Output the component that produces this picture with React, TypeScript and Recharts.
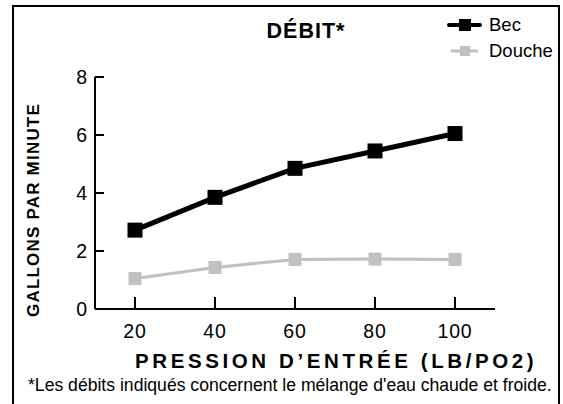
import { Legend, Line, LineChart, XAxis, YAxis } from "recharts";

const pressures = [20, 40, 60, 80, 100];
const becValues = [2.72, 3.85, 4.85, 5.45, 6.05];
const doucheValues = [1.05, 1.43, 1.71, 1.72, 1.71];
const yTicks = [0, 2, 4, 6, 8];

const title = "DÉBIT*";
const xTitle = "PRESSION D’ENTRÉE (LB/PO2)";
const yTitle = "GALLONS PAR MINUTE";
const footnote = "*Les débits indiqués concernent le mélange d'eau chaude et froide.";

const FONT = "'Liberation Sans', Arial, Helvetica, sans-serif";
const BEC = "#000000";
const DOUCHE = "#c0c0c0";

const data = pressures.map((p, i) => ({
  pression: p,
  bec: becValues[i],
  douche: doucheValues[i],
}));

function squareDot(size: number, color: string, prefix: string) {
  return (p: any) => (
    <rect
      key={`${prefix}-${p.index}`}
      x={p.cx - size / 2}
      y={p.cy - size / 2}
      width={size}
      height={size}
      fill={color}
    />
  );
}

function LegendBox({ payload }: any) {
  return (
    <div style={{ fontFamily: FONT, fontSize: 18.5, color: "#000", lineHeight: 1 }}>
      {(payload || []).map((item: any, i: number) => {
        const thick = item.dataKey === "bec";
        return (
          <div key={i} style={{ display: "flex", alignItems: "center", height: 26 }}>
            <svg width={40} height={20} style={{ marginRight: 2 }}>
              <line
                x1={thick ? 2 : 5}
                x2={thick ? 33 : 30}
                y1={10}
                y2={10}
                stroke={item.color}
                strokeWidth={thick ? 4 : 3}
                strokeLinecap="round"
              />
              {thick ? (
                <rect x={12} y={4} width={12} height={12} fill={item.color} />
              ) : (
                <rect x={13} y={5} width={10} height={10} fill={item.color} />
              )}
            </svg>
            <span>{item.value}</span>
          </div>
        );
      })}
    </div>
  );
}

export default function App() {
  return (
    <div style={{ position: "absolute", left: 0, top: 0, width: 563, height: 404, background: "#fff", overflow: "hidden" }}>
      <div
        style={{
          position: "absolute",
          left: 12,
          top: 5,
          width: 548,
          height: 420,
          border: "2px solid #000",
          boxSizing: "border-box",
        }}
      />
      <LineChart
        width={563}
        height={404}
        data={data}
        margin={{ top: 77, right: 68, bottom: 55, left: 35 }}
        style={{ position: "absolute", left: 0, top: 0 }}
      >
        <XAxis
          dataKey="pression"
          type="number"
          domain={[10, 110]}
          ticks={pressures}
          height={40}
          tickSize={-12}
          tickMargin={27}
          tick={{ fontSize: 19.5, fill: "#000", fontFamily: FONT, letterSpacing: 0.8 }}
          axisLine={{ stroke: "#000", strokeWidth: 2 }}
          tickLine={{ stroke: "#000", strokeWidth: 2 }}
        />
        <YAxis
          type="number"
          domain={[0, 8]}
          ticks={yTicks}
          width={60}
          tickSize={-9}
          tickMargin={17}
          tick={{ fontSize: 19.5, fill: "#000", fontFamily: FONT }}
          axisLine={{ stroke: "#000", strokeWidth: 2 }}
          tickLine={{ stroke: "#000", strokeWidth: 2 }}
        />
        <Legend
          layout="horizontal"
          verticalAlign="middle"
          align="center"
          content={<LegendBox />}
          wrapperStyle={{ position: "absolute", left: 447, top: 12, width: 115 }}
        />
        <Line
          name="Bec"
          dataKey="bec"
          stroke={BEC}
          strokeWidth={5}
          dot={squareDot(15, BEC, "b")}
          activeDot={false}
          isAnimationActive={false}
        />
        <Line
          name="Douche"
          dataKey="douche"
          stroke={DOUCHE}
          strokeWidth={3}
          dot={squareDot(13, DOUCHE, "d")}
          activeDot={false}
          isAnimationActive={false}
        />
        <text x={306} y={37.5} textAnchor="middle" fontFamily={FONT} fontWeight="bold" fontSize={21.5} letterSpacing={1}>
          {title}
        </text>
        <text x={135} y={368} fontFamily={FONT} fontWeight="bold" fontSize={20.5} letterSpacing={3.6}>
          {xTitle}
        </text>
        <text
          x={39}
          y={210}
          textAnchor="middle"
          transform="rotate(-90, 39, 210)"
          fontFamily={FONT}
          fontWeight="bold"
          fontSize={17}
          letterSpacing={1.2}
        >
          {yTitle}
        </text>
        <text x={28} y={391} fontFamily={FONT} fontSize={17.6}>
          {footnote}
        </text>
      </LineChart>
    </div>
  );
}
